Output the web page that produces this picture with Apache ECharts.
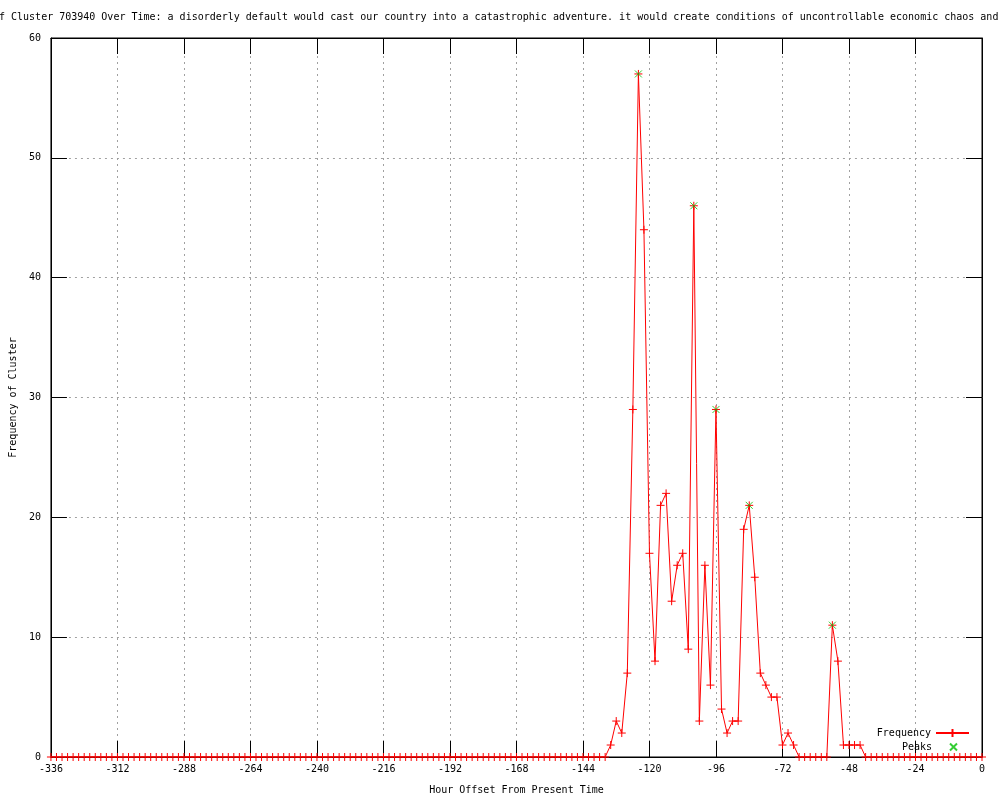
<!DOCTYPE html>
<html>
<head>
<meta charset="utf-8">
<script src="https://cdn.jsdelivr.net/npm/echarts@6/dist/echarts.min.js"></script>
<style>
html,body{margin:0;padding:0;background:#fff;}
#chart{width:1000px;height:800px;}
</style>
</head>
<body>
<div id="chart"></div>
<script>
const titleText = 'f Cluster 703940 Over Time: a disorderly default would cast our country into a catastrophic adventure. it would create conditions of uncontrollable economic chaos and';
const xAxisName = 'Hour Offset From Present Time';
const yAxisName = 'Frequency of Cluster';

const hours = [
  -336,-334,-332,-330,-328,-326,-324,-322,-320,-318,-316,-314,
  -312,-310,-308,-306,-304,-302,-300,-298,-296,-294,-292,-290,
  -288,-286,-284,-282,-280,-278,-276,-274,-272,-270,-268,-266,
  -264,-262,-260,-258,-256,-254,-252,-250,-248,-246,-244,-242,
  -240,-238,-236,-234,-232,-230,-228,-226,-224,-222,-220,-218,
  -216,-214,-212,-210,-208,-206,-204,-202,-200,-198,-196,-194,
  -192,-190,-188,-186,-184,-182,-180,-178,-176,-174,-172,-170,
  -168,-166,-164,-162,-160,-158,-156,-154,-152,-150,-148,-146,
  -144,-142,-140,-138,-136,-134,-132,-130,-128,-126,-124,-122,
  -120,-118,-116,-114,-112,-110,-108,-106,-104,-102,-100,-98,
  -96,-94,-92,-90,-88,-86,-84,-82,-80,-78,-76,-74,
  -72,-70,-68,-66,-64,-62,-60,-58,-56,-54,-52,-50,
  -48,-46,-44,-42,-40,-38,-36,-34,-32,-30,-28,-26,
  -24,-22,-20,-18,-16,-14,-12,-10,-8,-6,-4,-2,
  0
];
const frequency = [
  0,0,0,0,0,0,0,0,0,0,0,0,
  0,0,0,0,0,0,0,0,0,0,0,0,
  0,0,0,0,0,0,0,0,0,0,0,0,
  0,0,0,0,0,0,0,0,0,0,0,0,
  0,0,0,0,0,0,0,0,0,0,0,0,
  0,0,0,0,0,0,0,0,0,0,0,0,
  0,0,0,0,0,0,0,0,0,0,0,0,
  0,0,0,0,0,0,0,0,0,0,0,0,
  0,0,0,0,0,1,3,2,7,29,57,44,
  17,8,21,22,13,16,17,9,46,3,16,6,
  29,4,2,3,3,19,21,15,7,6,5,5,
  1,2,1,0,0,0,0,0,0,11,8,1,
  1,1,1,0,0,0,0,0,0,0,0,0,
  0,0,0,0,0,0,0,0,0,0,0,0,
  0
];
const peakHours = [-124,-104,-96,-84,-54];
const peakValues = [57,46,29,21,11];

const FONT = 'DejaVu Sans Mono';
const freqData = hours.map((h,i)=>[h, frequency[i]]);
const peakData = peakHours.map((h,i)=>[h, peakValues[i]]);

const chart = echarts.init(document.getElementById('chart'), null, {renderer:'canvas'});
function axLine(){ return {show:true, onZero:false, lineStyle:{color:'#000', width:1}}; }
function axTick(){ return {show:true, inside:true, length:16, lineStyle:{color:'#000', width:1}}; }
const option = {
  animation:false,
  backgroundColor:'#fff',
  textStyle:{fontFamily:FONT, fontSize:10, color:'#000'},
  title:{
    text:titleText, left:-1, top:12, padding:0,
    textStyle:{fontFamily:FONT, fontSize:10, fontWeight:'normal', color:'#000'}
  },
  grid:{left:49, right:18, top:38, bottom:40, show:true, borderColor:'#000', borderWidth:1},
  legend:[
    {
      data:['Frequency'], orient:'vertical', align:'right', right:30, top:728, padding:0,
      itemWidth:33, itemHeight:10, textStyle:{fontFamily:FONT, fontSize:10, color:'#000'}
    },
    {
      data:['Peaks'], orient:'vertical', align:'right', right:42, top:742, padding:0,
      itemWidth:33, itemHeight:7, symbolKeepAspect:true,
      textStyle:{fontFamily:FONT, fontSize:10, color:'#000'}
    }
  ],
  xAxis:[
    {
      type:'value', min:-336, max:0, interval:24, position:'bottom',
      name:xAxisName, nameLocation:'middle', nameGap:28,
      nameTextStyle:{fontFamily:FONT, fontSize:10, color:'#000'},
      axisLine:axLine(), axisTick:axTick(),
      axisLabel:{color:'#000', fontFamily:FONT, fontSize:10, margin:7},
      splitLine:{show:true, lineStyle:{color:'#a0a0a0', type:[2,4], width:1}}
    },
    {
      type:'value', min:-336, max:0, interval:24, position:'top',
      axisLine:axLine(), axisTick:axTick(),
      axisLabel:{show:false}, splitLine:{show:false}
    }
  ],
  yAxis:[
    {
      type:'value', min:0, max:60, interval:10, position:'left',
      name:yAxisName, nameLocation:'middle', nameGap:32, nameRotate:90,
      nameTextStyle:{fontFamily:FONT, fontSize:10, color:'#000'},
      axisLine:axLine(), axisTick:axTick(),
      axisLabel:{color:'#000', fontFamily:FONT, fontSize:10, margin:10},
      splitLine:{show:true, lineStyle:{color:'#a0a0a0', type:[2,4], width:1}}
    },
    {
      type:'value', min:0, max:60, interval:10, position:'right',
      axisLine:axLine(), axisTick:axTick(),
      axisLabel:{show:false}, splitLine:{show:false}
    }
  ],
  series:[
    {
      name:'Frequency', type:'line', xAxisIndex:0, yAxisIndex:0,
      data:freqData,
      symbol:'path://M0,4L8,4M4,0L4,8', symbolSize:8, showAllSymbol:true,
      lineStyle:{color:'#ff0000', width:1},
      itemStyle:{color:'#ff0000', borderColor:'#ff0000', borderWidth:1},
      emphasis:{disabled:true}, z:2
    },
    {
      name:'Peaks', type:'scatter', xAxisIndex:0, yAxisIndex:0,
      data:peakData,
      symbol:'path://M0,0L8,8M8,0L0,8', symbolSize:7, symbolKeepAspect:true,
      itemStyle:{color:'#00c000', borderColor:'#00c000', borderWidth:1},
      emphasis:{disabled:true}, z:3
    }
  ]
};
chart.setOption(option);
</script>
</body>
</html>
